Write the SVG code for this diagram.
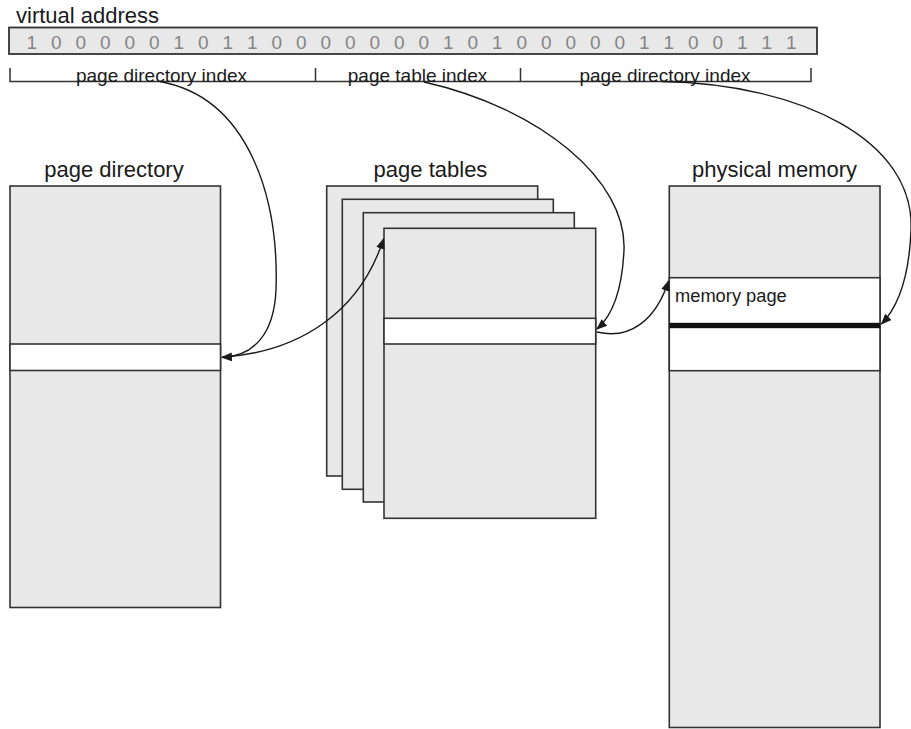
<svg xmlns="http://www.w3.org/2000/svg" width="911" height="729" viewBox="0 0 911 729">
<style>
  .t { font-family: "Liberation Sans", Arial, sans-serif; fill: #1a1a1a; }
  .h { font-size: 22px; text-anchor: middle; }
  .idx { font-size: 19px; text-anchor: middle; }
  .bit { font-family: "Liberation Sans", Arial, sans-serif; font-size: 19px; fill: #858585; text-anchor: middle; }
  .box { fill: #e8e8e8; stroke: #333; stroke-width: 1.6; }
  .row { fill: #ffffff; stroke: #333; stroke-width: 1.6; }
  .br { fill: none; stroke: #333; stroke-width: 1.5; }
  .c { fill: none; stroke: #1a1a1a; stroke-width: 1.4; marker-end: url(#ah); }
</style>
<defs>
  <marker id="ah" viewBox="0 0 10 10" refX="9" refY="5" markerWidth="11" markerHeight="11" markerUnits="userSpaceOnUse" orient="auto">
    <path d="M0,1 L10,5 L0,9 Z" fill="#1a1a1a"/>
  </marker>
</defs>
<rect width="911" height="729" fill="#ffffff"/>

<g id="virtual-address">
  <text class="t" x="16" y="23" font-size="22">virtual address</text>
  <rect x="9" y="27.5" width="808" height="26.5" fill="#e8e8e8" stroke="#333" stroke-width="1.8"/>
  <g class="bit">
    <text x="31.7" y="48.5">1</text><text x="56.2" y="48.5">0</text><text x="80.7" y="48.5">0</text><text x="105.2" y="48.5">0</text>
    <text x="129.7" y="48.5">0</text><text x="154.2" y="48.5">0</text><text x="178.7" y="48.5">1</text><text x="203.2" y="48.5">0</text>
    <text x="227.7" y="48.5">1</text><text x="252.2" y="48.5">1</text><text x="276.7" y="48.5">0</text><text x="301.2" y="48.5">0</text>
    <text x="325.7" y="48.5">0</text><text x="350.2" y="48.5">0</text><text x="374.7" y="48.5">0</text><text x="399.2" y="48.5">0</text>
    <text x="423.7" y="48.5">0</text><text x="448.2" y="48.5">1</text><text x="472.7" y="48.5">0</text><text x="497.2" y="48.5">1</text>
    <text x="521.7" y="48.5">0</text><text x="546.2" y="48.5">0</text><text x="570.7" y="48.5">0</text><text x="595.2" y="48.5">0</text>
    <text x="619.7" y="48.5">0</text><text x="644.2" y="48.5">1</text><text x="668.7" y="48.5">1</text><text x="693.2" y="48.5">0</text>
    <text x="717.7" y="48.5">0</text><text x="742.2" y="48.5">1</text><text x="766.7" y="48.5">1</text><text x="791.2" y="48.5">1</text>
  </g>
</g>

<g id="address-fields">
  <path class="br" d="M10,68 V81.5 H811 V68 M315.5,68 V82 M520.5,68 V82"/>
  <text class="t idx" x="161.5" y="81.5">page directory index</text>
  <text class="t idx" x="417.5" y="81.5">page table index</text>
  <text class="t idx" x="665" y="81.5">page directory index</text>
</g>

<g id="page-directory">
  <text class="t h" x="114" y="177">page directory</text>
  <rect class="box" x="10" y="186" width="210.5" height="421.5"/>
  <rect class="row" x="10" y="344" width="210.5" height="26.5"/>
</g>

<g id="page-tables">
  <text class="t h" x="430.5" y="177">page tables</text>
  <rect class="box" x="326.7" y="186" width="211" height="290"/>
  <rect class="box" x="342.3" y="199.3" width="211" height="290"/>
  <rect class="box" x="363.3" y="212.7" width="211" height="289.3"/>
  <rect class="box" x="384" y="228.3" width="211.7" height="290"/>
  <rect class="row" x="384" y="318.3" width="211.7" height="25.7"/>
</g>

<g id="physical-memory">
  <text class="t h" x="774.5" y="177">physical memory</text>
  <rect class="box" x="669.3" y="186" width="210.7" height="541.5"/>
  <rect class="row" x="669.3" y="277.7" width="210.7" height="93"/>
  <rect x="669.3" y="322.8" width="210.7" height="5.4" fill="#111"/>
  <text class="t" x="675" y="301.7" font-size="18.3">memory page</text>
</g>

<g id="connectors">
  <path class="c" d="M160,81.5 C250,98 279,200 276,290 C274,334 254,356 222,357.3"/>
  <path class="c" d="M222,357.3 C300,352 360,312 383.5,239"/>
  <path class="c" d="M424,82 C540,108 627,180 624,250 C622,293 612,316 597,329"/>
  <path class="c" d="M597,332 C630,340 656,320 668.5,281"/>
  <path class="c" d="M662,81.5 C800,84 915,140 911,230 C909,283 896,309 881.5,324"/>
</g>
</svg>
